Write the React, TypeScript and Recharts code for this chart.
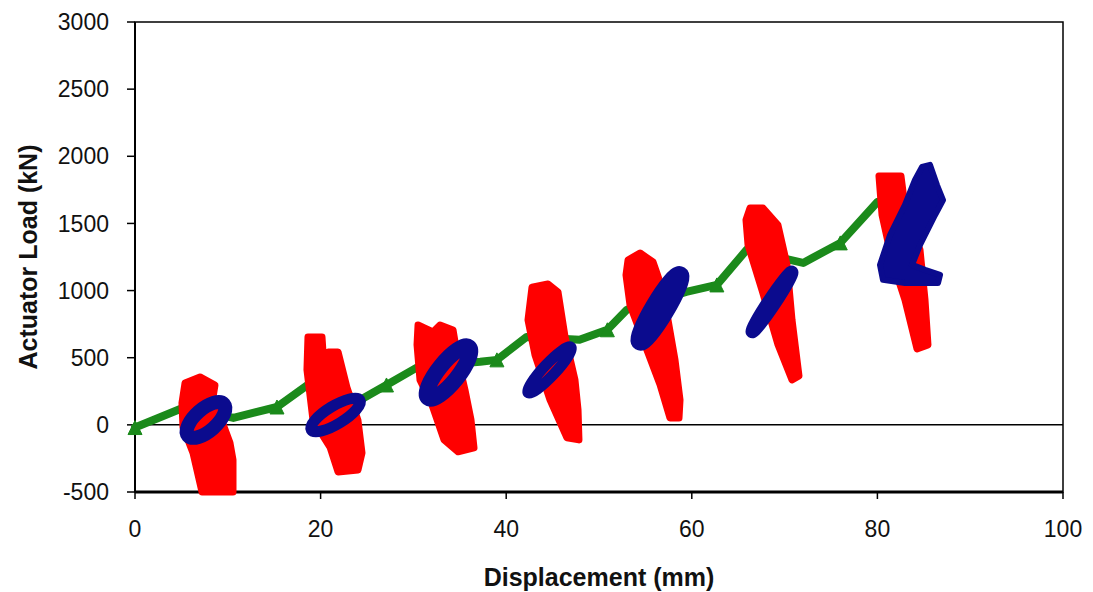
import React from "react";
import { ScatterChart, Scatter, XAxis, YAxis, ReferenceLine, ReferenceArea } from "recharts";

const xTicks = [0, 20, 40, 60, 80, 100];
const yTicks = [-500, 0, 500, 1000, 1500, 2000, 2500, 3000];

// green backbone, the parts that show between the cycles
const backbone = [
  { x: 0, y: -20 }, { x: 5.4, y: 133 }, { x: 10.6, y: 52 }, { x: 15.3, y: 133 }, { x: 18.6, y: 297 },
  { x: 24.4, y: 190 }, { x: 27.1, y: 297 }, { x: 30.5, y: 432 }, { x: 37.2, y: 470 }, { x: 39.0, y: 484 },
  { x: 42.2, y: 655 }, { x: 47.9, y: 633 }, { x: 50.9, y: 708 }, { x: 53.0, y: 857 }, { x: 59.4, y: 990 },
  { x: 62.7, y: 1042 }, { x: 65.9, y: 1303 }, { x: 72.0, y: 1206 }, { x: 76.0, y: 1355 }, { x: 80.0, y: 1660 },
];
const backboneMarkers = [
  { x: 0, y: -20 }, { x: 15.3, y: 133 }, { x: 27.1, y: 297 }, { x: 39.0, y: 484 },
  { x: 50.9, y: 708 }, { x: 62.7, y: 1042 }, { x: 76.0, y: 1355 },
];

// red hysteresis blobs (outline)
const red1 = [
  { x: 5.39, y: 312 }, { x: 7.0, y: 357 }, { x: 8.62, y: 297 }, { x: 8.41, y: 207 }, { x: 10.24, y: -135 },
  { x: 10.56, y: -261 }, { x: 10.56, y: -500 }, { x: 7.22, y: -500 }, { x: 6.25, y: -210 }, { x: 5.17, y: -16 },
  { x: 5.06, y: 163 },
];
const red2 = [
  { x: 18.64, y: 655 }, { x: 20.15, y: 655 }, { x: 20.37, y: 425 }, { x: 20.8, y: 543 }, { x: 21.88, y: 543 },
  { x: 22.83, y: 282 }, { x: 24.02, y: 36 }, { x: 24.46, y: -209 }, { x: 24.03, y: -336 }, { x: 21.88, y: -351 },
  { x: 21.01, y: -165 }, { x: 19.18, y: 36 }, { x: 18.53, y: 409 },
];
const red3 = [
  { x: 30.5, y: 744 }, { x: 32.11, y: 692 }, { x: 32.87, y: 744 }, { x: 34.27, y: 707 }, { x: 34.81, y: 484 },
  { x: 35.56, y: 260 }, { x: 36.21, y: 36 }, { x: 36.53, y: -172 }, { x: 34.81, y: -201 }, { x: 33.3, y: -112 },
  { x: 32.0, y: 149 }, { x: 30.71, y: 335 }, { x: 30.39, y: 596 },
];
const red4 = [
  { x: 42.78, y: 1026 }, { x: 44.5, y: 1049 }, { x: 45.58, y: 990 }, { x: 46.34, y: 655 }, { x: 47.41, y: 335 },
  { x: 47.74, y: 111 }, { x: 47.84, y: -112 }, { x: 46.55, y: -97 }, { x: 44.72, y: 186 }, { x: 43.1, y: 521 },
  { x: 42.35, y: 781 },
];
const red5 = [
  { x: 53.13, y: 1228 }, { x: 54.42, y: 1280 }, { x: 55.82, y: 1213 }, { x: 56.68, y: 1042 }, { x: 57.44, y: 781 },
  { x: 58.19, y: 484 }, { x: 58.73, y: 186 }, { x: 58.62, y: 51 }, { x: 57.65, y: 51 }, { x: 56.58, y: 298 },
  { x: 54.96, y: 595 }, { x: 53.34, y: 893 }, { x: 52.91, y: 1116 },
];
const red6 = [
  { x: 66.27, y: 1614 }, { x: 67.67, y: 1614 }, { x: 69.29, y: 1487 }, { x: 70.26, y: 1191 }, { x: 70.8, y: 781 },
  { x: 71.55, y: 364 }, { x: 70.8, y: 335 }, { x: 69.29, y: 596 }, { x: 67.56, y: 1005 }, { x: 66.06, y: 1340 },
  { x: 65.84, y: 1526 },
];
const red7 = [
  { x: 80.17, y: 1853 }, { x: 82.54, y: 1853 }, { x: 83.08, y: 1563 }, { x: 84.59, y: 1303 }, { x: 85.13, y: 930 },
  { x: 85.45, y: 595 }, { x: 84.27, y: 566 }, { x: 82.97, y: 930 }, { x: 81.57, y: 1228 }, { x: 80.5, y: 1563 },
];

// blue loops
const blue1 = [
  { x: 9.79, y: 168 }, { x: 9.78, y: 81 }, { x: 8.52, y: -31 }, { x: 6.75, y: -104 },
  { x: 5.51, y: -94 }, { x: 5.52, y: -8 }, { x: 6.78, y: 104 }, { x: 8.55, y: 177 },
];
const blue2 = [
  { x: 24.52, y: 197 }, { x: 24.06, y: 116 }, { x: 22.17, y: 11 }, { x: 19.95, y: -58 },
  { x: 18.7, y: -49 }, { x: 19.16, y: 31 }, { x: 21.05, y: 137 }, { x: 23.27, y: 205 },
];
const blue3 = [
  { x: 36.21, y: 599 }, { x: 36.15, y: 501 }, { x: 34.71, y: 339 }, { x: 32.72, y: 206 },
  { x: 31.35, y: 181 }, { x: 31.41, y: 279 }, { x: 32.86, y: 441 }, { x: 34.84, y: 574 },
];
const blue4 = [
  { x: 47.22, y: 597 }, { x: 46.84, y: 518 }, { x: 45.19, y: 375 }, { x: 43.23, y: 252 },
  { x: 42.12, y: 221 }, { x: 42.5, y: 300 }, { x: 44.15, y: 443 }, { x: 46.11, y: 566 },
];
const blue5 = [
  { x: 58.94, y: 1141 }, { x: 58.68, y: 1043 }, { x: 57.18, y: 842 }, { x: 55.33, y: 655 },
  { x: 54.2, y: 593 }, { x: 54.46, y: 691 }, { x: 55.96, y: 892 }, { x: 57.81, y: 1079 },
];
const blue6 = [
  { x: 71.01, y: 1161 }, { x: 70.53, y: 1079 }, { x: 68.94, y: 901 }, { x: 67.18, y: 732 },
  { x: 66.27, y: 669 }, { x: 66.75, y: 751 }, { x: 68.34, y: 929 }, { x: 70.1, y: 1098 },
];
const blue7 = [
  { x: 84.81, y: 1921 }, { x: 85.67, y: 1936 }, { x: 86.42, y: 1786 }, { x: 87.07, y: 1674 },
  { x: 86.21, y: 1563 }, { x: 84.59, y: 1340 }, { x: 83.73, y: 1191 }, { x: 85.13, y: 1154 },
  { x: 86.75, y: 1117 }, { x: 86.53, y: 1057 }, { x: 82.97, y: 1057 }, { x: 80.6, y: 1080 },
  { x: 80.28, y: 1191 }, { x: 81.36, y: 1414 }, { x: 82.97, y: 1638 }, { x: 84.05, y: 1824 },
];

const RED = "#ff0000";
const BLUE = "#0b0b8e";
const GREEN = "#1b8a1b";
const FONT = "'Liberation Sans', Arial, sans-serif";

const noDot = () => <g />;

// excel-ish triangle marker, sitting on the line
const Tri = (props: any) => {
  const { cx, cy } = props;
  if (cx == null || cy == null) return <g />;
  return (
    <polygon
      points={`${cx},${cy - 7} ${cx - 7},${cy + 7} ${cx + 7},${cy + 7}`}
      fill={GREEN}
      stroke={GREEN}
      strokeWidth={1}
    />
  );
};

export default function App() {
  const redLoops = [red1, red2, red3, red4, red5, red6, red7];
  const blueRings = [
    { data: blue1, w: 14 },
    { data: blue2, w: 11 },
    { data: blue3, w: 16 },
    { data: blue4, w: 11 },
    { data: blue5, w: 18 },
    { data: blue6, w: 13 },
  ];

  return (
    <div style={{ position: "absolute", left: 0, top: 0, background: "#fff" }}>
      <ScatterChart width={1093} height={592} margin={{ top: 22, right: 30, bottom: 0, left: 20 }}>
        <XAxis
          type="number"
          dataKey="x"
          domain={[0, 100]}
          ticks={xTicks}
          height={100}
          stroke="#000"
          axisLine={{ stroke: "#000", strokeWidth: 3 }}
          tickLine={{ stroke: "#000", strokeWidth: 1.5 }}
          tickSize={7}
          tickMargin={22}
          tick={{ fill: "#111", fontSize: 23, fontFamily: FONT }}
          label={{ value: "Displacement (mm)", position: "insideBottom", offset: 6, fill: "#111", fontSize: 25, fontWeight: 700, fontFamily: FONT }}
        />
        <YAxis
          type="number"
          dataKey="y"
          domain={[-500, 3000]}
          ticks={yTicks}
          width={115}
          stroke="#000"
          axisLine={{ stroke: "#000", strokeWidth: 2 }}
          tickLine={{ stroke: "#000", strokeWidth: 1.5 }}
          tickSize={8}
          tickMargin={18}
          tick={{ fill: "#111", fontSize: 23, fontFamily: FONT }}
          label={{ value: "Actuator Load (kN)", angle: -90, position: "insideLeft", offset: 8, fill: "#111", fontSize: 25, fontWeight: 700, fontFamily: FONT, style: { textAnchor: "middle" } }}
        />
        <ReferenceArea x1={0} x2={100} y1={-500} y2={3000} fill="none" fillOpacity={0} stroke="#000" strokeWidth={1.5} />
        <ReferenceLine y={0} stroke="#000" strokeWidth={1.5} />

        <Scatter data={backbone} fill={GREEN} shape={noDot} line={{ stroke: GREEN, strokeWidth: 8, strokeLinejoin: "round", strokeLinecap: "round" }} isAnimationActive={false} />
        <Scatter data={backboneMarkers} fill={GREEN} shape={Tri} isAnimationActive={false} />

        {redLoops.map((d, i) => (
          <Scatter
            key={"r" + i}
            data={d}
            fill={RED}
            shape={noDot}
            lineJointType="linearClosed"
            line={{ stroke: RED, fill: RED, strokeWidth: 7, strokeLinejoin: "round" }}
            isAnimationActive={false}
          />
        ))}

        {blueRings.map((r, i) => (
          <Scatter
            key={"b" + i}
            data={r.data}
            fill={BLUE}
            shape={noDot}
            lineJointType="basisClosed"
            line={{ stroke: BLUE, fill: "none", strokeWidth: r.w }}
            isAnimationActive={false}
          />
        ))}
        <Scatter
          data={blue7}
          fill={BLUE}
          shape={noDot}
          lineJointType="linearClosed"
          line={{ stroke: BLUE, fill: BLUE, strokeWidth: 6, strokeLinejoin: "round" }}
          isAnimationActive={false}
        />
      </ScatterChart>
    </div>
  );
}
